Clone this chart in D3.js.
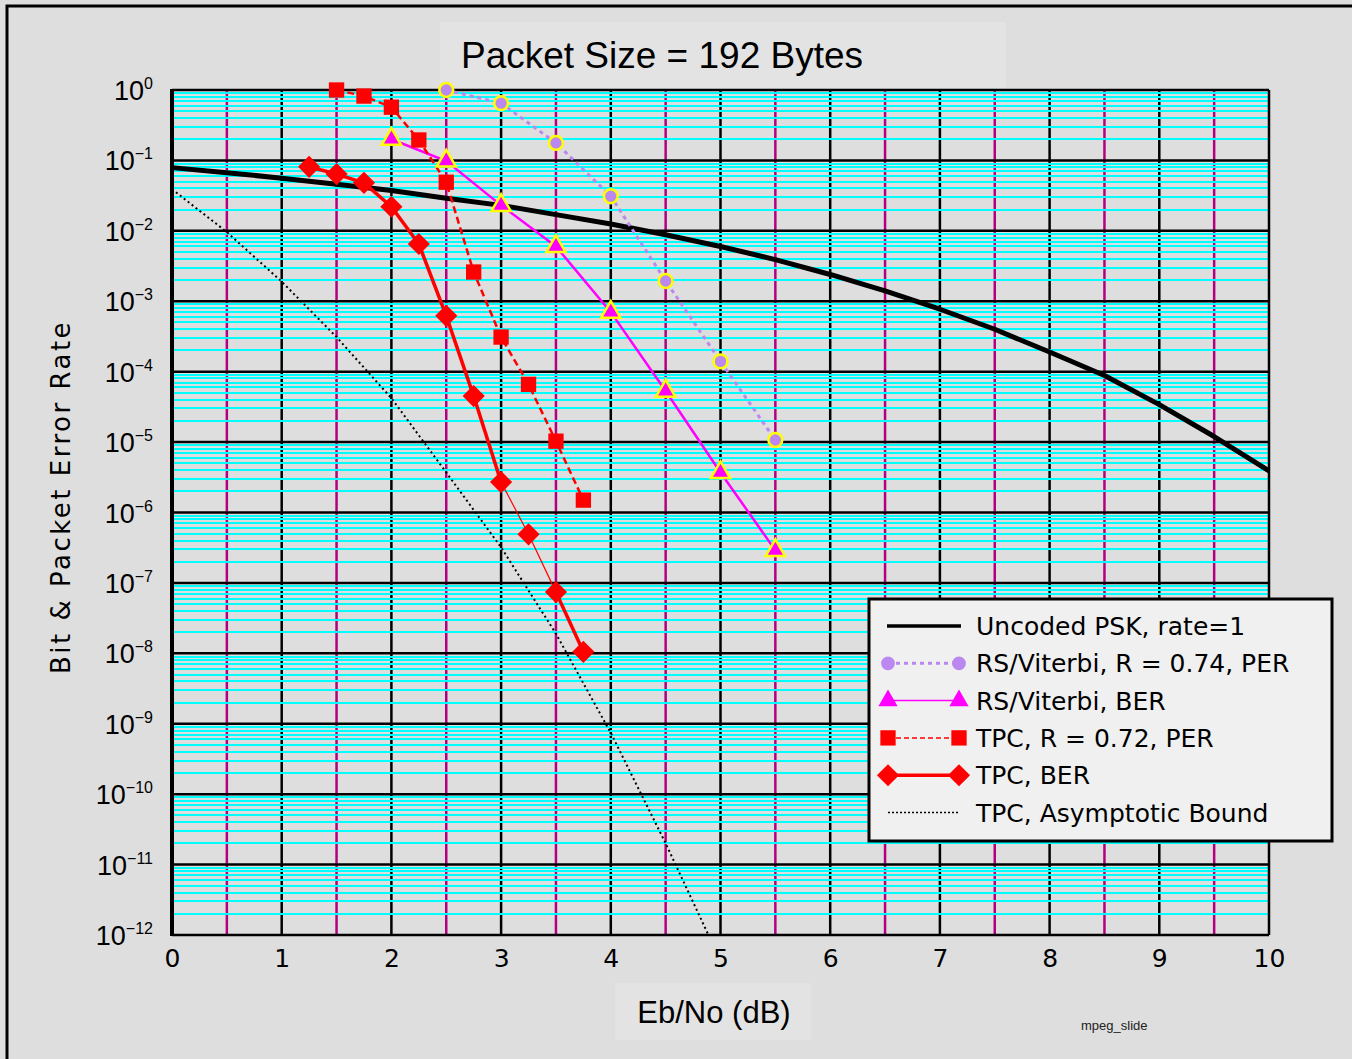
<!DOCTYPE html>
<html>
<head>
<meta charset="utf-8">
<script src="https://d3js.org/d3.v7.min.js"></script>
<style>
  body { margin: 0; background: #dedede; }
  svg { display: block; }
</style>
</head>
<body>
<div id="chart"></div>
<script>
// Packet error / bit error rate curves vs Eb/No

const uncodedEbNo = [0, 0.5, 1, 1.5, 2, 2.5, 3, 3.5, 4, 4.5, 5, 5.5, 6, 6.5, 7, 7.5, 8, 8.5, 9, 9.5, 10];
const uncodedBer = [7.9e-2, 6.7e-2, 5.6e-2, 4.6e-2, 3.75e-2, 2.9e-2, 2.3e-2, 1.7e-2, 1.25e-2, 8.8e-3,
  6.0e-3, 3.9e-3, 2.4e-3, 1.4e-3, 7.7e-4, 4.0e-4, 1.9e-4, 8.8e-5, 3.4e-5, 1.2e-5, 3.9e-6];

const rsPerEbNo = [2.5, 3, 3.5, 4, 4.5, 5, 5.5];
const rsPer = [1.0, 0.65, 0.177, 0.031, 1.94e-3, 1.4e-4, 1.07e-5];

const rsBerEbNo = [2, 2.5, 3, 3.5, 4, 4.5, 5, 5.5];
const rsBer = [0.2, 0.098, 0.023, 6.0e-3, 7.0e-4, 5.3e-5, 3.7e-6, 2.9e-7];

const tpcPerEbNo = [1.5, 1.75, 2, 2.25, 2.5, 2.75, 3, 3.25, 3.5, 3.75];
const tpcPer = [1.0, 0.82, 0.57, 0.195, 0.049, 2.6e-3, 3.1e-4, 6.6e-5, 1.03e-5, 1.5e-6];

const tpcBerEbNo = [1.25, 1.5, 1.75, 2, 2.25, 2.5, 2.75, 3, 3.25, 3.5, 3.75];
const tpcBer = [0.081, 0.064, 0.048, 0.022, 6.5e-3, 6.2e-4, 4.5e-5, 2.7e-6, 4.9e-7, 7.4e-8, 1.05e-8];

const boundEbNo = [0, 0.5, 1, 1.5, 2, 2.5, 3, 3.5, 4, 4.5, 4.89];
const boundBer = [3.9e-2, 9.6e-3, 1.9e-3, 3.1e-4, 4.2e-5, 3.7e-6, 3.2e-7, 1.9e-8, 7.4e-10, 2.0e-11, 1e-12];

const xTicks = [0, 1, 2, 3, 4, 5, 6, 7, 8, 9, 10];
const yExponents = [0, -1, -2, -3, -4, -5, -6, -7, -8, -9, -10, -11, -12];

const legendLabels = [
  'Uncoded PSK, rate=1',
  'RS/Viterbi, R = 0.74, PER',
  'RS/Viterbi, BER',
  'TPC, R = 0.72, PER',
  'TPC, BER',
  'TPC, Asymptotic Bound'
];

(function() {
  const W = 1352, H = 1059;
  const plot = { left: 172, right: 1269, top: 90, bottom: 935 };

  const lavender = '#bb88f0';
  const gridPurple = '#b4007f';
  const cyan = '#00ffff';

  const svg = d3.select('#chart')
    .append('svg')
    .attr('width', W)
    .attr('height', H);

  // page background and outer frame
  svg.append('rect').attr('width', W).attr('height', H).attr('fill', '#dedede');
  svg.append('rect')
    .attr('x', 7).attr('y', 6)
    .attr('width', W + 20).attr('height', H + 20)
    .attr('fill', 'none').attr('stroke', '#000').attr('stroke-width', 3);

  const x = d3.scaleLinear().domain([0, 10]).range([plot.left, plot.right]);
  const y = d3.scaleLog().domain([1, 1e-12]).range([plot.top, plot.bottom]);

  // title box
  svg.append('rect')
    .attr('x', 440).attr('y', 22).attr('width', 566).attr('height', 66)
    .attr('fill', '#e3e3e3');
  svg.append('text')
    .attr('x', 662).attr('y', 68)
    .attr('text-anchor', 'middle')
    .style('font-family', 'Liberation Sans, Arial, sans-serif')
    .style('font-size', '37px')
    .text('Packet Size = 192 Bytes');

  // grid
  const grid = svg.append('g');
  const halfSteps = d3.range(0.5, 10, 1);
  grid.selectAll('.vhalf')
    .data(halfSteps)
    .enter().append('line')
    .attr('x1', d => x(d)).attr('x2', d => x(d))
    .attr('y1', plot.top).attr('y2', plot.bottom)
    .attr('stroke', gridPurple).attr('stroke-width', 2.5);
  grid.selectAll('.vint')
    .data(xTicks.slice(1, -1))
    .enter().append('line')
    .attr('x1', d => x(d)).attr('x2', d => x(d))
    .attr('y1', plot.top).attr('y2', plot.bottom)
    .attr('stroke', '#000').attr('stroke-width', 2.5);

  const minorVals = [];
  yExponents.slice(1).forEach(e => {
    for (let m = 2; m <= 9; m++) minorVals.push(m * Math.pow(10, e));
  });
  grid.selectAll('.hminor')
    .data(minorVals)
    .enter().append('line')
    .attr('x1', plot.left).attr('x2', plot.right)
    .attr('y1', d => Math.round(y(d))).attr('y2', d => Math.round(y(d)))
    .attr('stroke', cyan).attr('stroke-width', 2);
  grid.selectAll('.hmajor')
    .data(yExponents)
    .enter().append('line')
    .attr('x1', plot.left).attr('x2', plot.right)
    .attr('y1', d => y(Math.pow(10, d))).attr('y2', d => y(Math.pow(10, d)))
    .attr('stroke', '#000').attr('stroke-width', 2.5);

  // frame of plot
  grid.append('line')
    .attr('x1', plot.right).attr('x2', plot.right)
    .attr('y1', plot.top).attr('y2', plot.bottom)
    .attr('stroke', '#000').attr('stroke-width', 2.5);
  grid.append('line')
    .attr('x1', plot.left).attr('x2', plot.left)
    .attr('y1', plot.top - 1).attr('y2', plot.bottom + 1)
    .attr('stroke', '#000').attr('stroke-width', 4);

  // y tick labels
  const yLab = svg.append('g')
    .style('font-family', 'Liberation Sans, Arial, sans-serif');
  const yt = yLab.selectAll('.ytick')
    .data(yExponents)
    .enter().append('text')
    .attr('x', 153)
    .attr('y', d => y(Math.pow(10, d)) + 10)
    .attr('text-anchor', 'end')
    .style('font-size', '27px');
  yt.append('tspan').text('10');
  yt.append('tspan')
    .attr('dy', -11)
    .style('font-size', '16px')
    .text(d => d === 0 ? '0' : '\u2212' + Math.abs(d));

  // x axis labels
  const xAxis = d3.axisBottom(x).tickValues(xTicks).tickSize(0).tickPadding(14).tickFormat(d3.format('d'));
  const xg = svg.append('g')
    .attr('transform', `translate(0, ${plot.bottom})`)
    .call(xAxis);
  xg.select('.domain').remove();
  xg.selectAll('text')
    .style('font-family', 'DejaVu Sans, sans-serif')
    .style('font-size', '25px')
    .attr('fill', '#000');

  // axis titles
  svg.append('rect')
    .attr('x', 615).attr('y', 983).attr('width', 196).attr('height', 57)
    .attr('fill', '#e3e3e3');
  svg.append('text')
    .attr('x', 714).attr('y', 1023)
    .attr('text-anchor', 'middle')
    .style('font-family', 'Liberation Sans, Arial, sans-serif')
    .style('font-size', '31px')
    .text('Eb/No (dB)');

  svg.append('text')
    .attr('transform', 'translate(70, 497) rotate(-90)')
    .attr('text-anchor', 'middle')
    .style('font-family', 'DejaVu Sans, sans-serif')
    .style('font-size', '26px')
    .style('letter-spacing', '2.5px')
    .text('Bit & Packet Error Rate');

  svg.append('text')
    .attr('x', 1081).attr('y', 1030)
    .style('font-family', 'Liberation Sans, Arial, sans-serif')
    .style('font-size', '13px')
    .attr('fill', '#222')
    .text('mpeg_slide');

  // curves
  const line = d3.line().x(d => x(d[0])).y(d => y(d[1]));
  const zip = (a, b) => a.map((v, i) => [v, b[i]]);

  const uncoded = zip(uncodedEbNo, uncodedBer);
  const rsPerPts = zip(rsPerEbNo, rsPer);
  const rsBerPts = zip(rsBerEbNo, rsBer);
  const tpcPerPts = zip(tpcPerEbNo, tpcPer);
  const tpcBerPts = zip(tpcBerEbNo, tpcBer);
  const boundPts = zip(boundEbNo, boundBer);

  const curves = svg.append('g');

  curves.append('path')
    .attr('d', line(boundPts))
    .attr('fill', 'none').attr('stroke', '#000')
    .attr('stroke-width', 2).attr('stroke-dasharray', '2,3');

  curves.append('path')
    .attr('d', line(uncoded))
    .attr('fill', 'none').attr('stroke', '#000')
    .attr('stroke-width', 5).attr('stroke-linejoin', 'round');

  curves.append('path')
    .attr('d', line(rsPerPts))
    .attr('fill', 'none').attr('stroke', lavender)
    .attr('stroke-width', 3).attr('stroke-dasharray', '4,4');

  curves.append('path')
    .attr('d', line(rsBerPts))
    .attr('fill', 'none').attr('stroke', '#ff00ff')
    .attr('stroke-width', 2.5);

  curves.append('path')
    .attr('d', line(tpcPerPts))
    .attr('fill', 'none').attr('stroke', '#ff0000')
    .attr('stroke-width', 2.5).attr('stroke-dasharray', '7,4');

  // TPC BER drawn segment by segment: the 3 - 3.5 dB stretch is thin
  const tpcSegs = d3.pairs(tpcBerPts);
  curves.selectAll('.tpcseg')
    .data(tpcSegs)
    .enter().append('path')
    .attr('d', d => line(d))
    .attr('fill', 'none').attr('stroke', '#ff0000')
    .attr('stroke-width', d => (d[0][0] >= 3 && d[1][0] <= 3.5) ? 1.2 : 3.5);

  // markers
  const circleSym = d3.symbol().type(d3.symbolCircle).size(150);
  const triSym = d3.symbol().type(d3.symbolTriangle).size(160);
  const sqSym = d3.symbol().type(d3.symbolSquare).size(235);
  const diaSym = d3.symbol().type(d3.symbolSquare).size(245);

  const markers = svg.append('g');
  markers.selectAll('.rsper')
    .data(rsPerPts)
    .enter().append('path')
    .attr('d', circleSym)
    .attr('transform', d => `translate(${x(d[0])},${y(d[1])})`)
    .attr('fill', lavender).attr('stroke', '#ffff00').attr('stroke-width', 2.5);
  markers.selectAll('.rsber')
    .data(rsBerPts)
    .enter().append('path')
    .attr('d', triSym)
    .attr('transform', d => `translate(${x(d[0])},${y(d[1])})`)
    .attr('fill', '#ff00ff').attr('stroke', '#ffff00').attr('stroke-width', 2.5);
  markers.selectAll('.tpcper')
    .data(tpcPerPts)
    .enter().append('path')
    .attr('d', sqSym)
    .attr('transform', d => `translate(${x(d[0])},${y(d[1])})`)
    .attr('fill', '#ff0000');
  markers.selectAll('.tpcber')
    .data(tpcBerPts)
    .enter().append('path')
    .attr('d', diaSym)
    .attr('transform', d => `translate(${x(d[0])},${y(d[1])}) rotate(45)`)
    .attr('fill', '#ff0000');

  // legend
  const legend = svg.append('g');
  legend.append('rect')
    .attr('x', 869).attr('y', 599).attr('width', 463).attr('height', 242)
    .attr('fill', '#f0f0f0').attr('stroke', '#000').attr('stroke-width', 3);

  const rowY = i => 626 + i * 37.3;
  const lx1 = 888, lx2 = 959;
  const rows = legend.selectAll('.legend-item')
    .data(legendLabels)
    .enter().append('g')
    .attr('transform', (d, i) => `translate(0, ${rowY(i)})`);
  rows.append('text')
    .attr('x', 976).attr('y', 9)
    .style('font-family', 'DejaVu Sans, sans-serif')
    .style('font-size', '25px')
    .text(d => d);

  const sample = (i, stroke, width, dash) => legend.append('line')
    .attr('x1', lx1).attr('x2', lx2)
    .attr('y1', rowY(i)).attr('y2', rowY(i))
    .attr('stroke', stroke).attr('stroke-width', width)
    .attr('stroke-dasharray', dash);

  legend.append('line')
    .attr('x1', 887).attr('x2', 961).attr('y1', rowY(0)).attr('y2', rowY(0))
    .attr('stroke', '#000').attr('stroke-width', 3.5);
  sample(1, lavender, 3, '4,4');
  sample(2, '#ff00ff', 1.5, null);
  sample(3, '#ff0000', 1.5, '5,3');
  sample(4, '#ff0000', 3.5, null);
  sample(5, '#000', 1.5, '2,2');

  [lx1, lx2].forEach(px => {
    legend.append('path').attr('d', circleSym)
      .attr('transform', `translate(${px},${rowY(1)})`).attr('fill', lavender);
    legend.append('path').attr('d', triSym)
      .attr('transform', `translate(${px},${rowY(2)})`).attr('fill', '#ff00ff');
    legend.append('path').attr('d', sqSym)
      .attr('transform', `translate(${px},${rowY(3)})`).attr('fill', '#ff0000');
    legend.append('path').attr('d', diaSym)
      .attr('transform', `translate(${px},${rowY(4)}) rotate(45)`).attr('fill', '#ff0000');
  });
})();
</script>
</body>
</html>
